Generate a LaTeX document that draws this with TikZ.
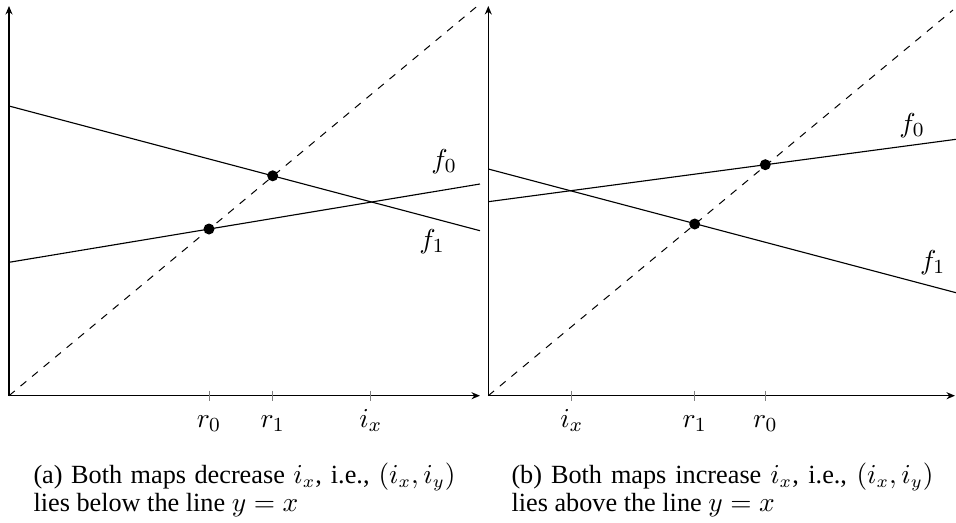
\documentclass[tikz,border=0pt]{standalone}
\usepackage[no-math]{fontspec}
\setmainfont{Liberation Serif}
\usetikzlibrary{arrows.meta}
\begin{document}
\begin{tikzpicture}[x=0.4pt,y=-0.4pt,
  axisline/.style={line width=0.45pt,-{Stealth[length=3.4pt,width=2.8pt]}},
  ticklne/.style={gray,line width=0.35pt},
  diagline/.style={dashed,line width=0.4pt},
  mapline/.style={line width=0.45pt},
  dotmark/.style={fill=black,circle,inner sep=0pt,minimum size=4.4pt},
  ticklabel/.style={anchor=base,inner sep=0pt,font=\fontsize{11}{13}\selectfont},
  maplabel/.style={inner sep=0pt,font=\fontsize{11}{13}\selectfont},
  captext/.style={anchor=base west,inner sep=0pt,font=\fontsize{10.5}{12}\selectfont}]
\useasboundingbox (0,0) rectangle (956,522);

% ---------- left panel ----------
\coordinate (Ao) at (9,395.7);
\coordinate (Ay) at (9,6);
\coordinate (Ax) at (480,395.7);
\coordinate (Ad) at (479.8,4);
\coordinate (Af0s) at (9,106);
\coordinate (Af0e) at (480,230.7);
\coordinate (Af1s) at (9,262.3);
\coordinate (Af1e) at (480,184);

\draw[diagline] (Ao) -- (Ad);
\draw[mapline] (Af0s) -- (Af0e);
\draw[mapline] (Af1s) -- (Af1e);
\draw[axisline] (Ao) -- (Ay);
\draw[axisline] (Ao) -- (Ax);

\coordinate (Atr0a) at (209,390.5); \coordinate (Atr0b) at (209,401);
\coordinate (Atr1a) at (272.7,390.5); \coordinate (Atr1b) at (272.7,401);
\coordinate (Atixa) at (370.7,390.5); \coordinate (Atixb) at (370.7,401);
\draw[ticklne] (Atr0a) -- (Atr0b);
\draw[ticklne] (Atr1a) -- (Atr1b);
\draw[ticklne] (Atixa) -- (Atixb);

\node[ticklabel] (Alr0) at (209,427) {$r_0$};
\node[ticklabel] (Alr1) at (272.7,427) {$r_1$};
\node[ticklabel] (Alix) at (370.7,427) {$i_x$};

\node[dotmark] (Ar0) at (209,229) {};
\node[dotmark] (Ar1) at (272.7,175.8) {};

\node[maplabel] (Alf0) at (444,162) {$f_0$};
\node[maplabel] (Alf1) at (432,242) {$f_1$};

\node[captext] (Acap1) at (33,483) {\makebox[168.8pt][s]{(a) Both maps decrease $i_x$, i.e., $(i_x,i_y)$}};
\node[captext] (Acap2) at (33,511) {lies below the line $y=x$};

% ---------- right panel ----------
\coordinate (Bo) at (488.3,395.7);
\coordinate (By) at (488.3,6);
\coordinate (Bx) at (955,395.7);
\coordinate (Bd) at (953,10);
\coordinate (Bf0s) at (488.3,201.7);
\coordinate (Bf0e) at (956,139.3);
\coordinate (Bf1s) at (488.3,169);
\coordinate (Bf1e) at (956,292.7);

\draw[diagline] (Bo) -- (Bd);
\draw[mapline] (Bf0s) -- (Bf0e);
\draw[mapline] (Bf1s) -- (Bf1e);
\draw[axisline] (Bo) -- (By);
\draw[axisline] (Bo) -- (Bx);

\coordinate (Btixa) at (571.7,390.5); \coordinate (Btixb) at (571.7,401);
\coordinate (Btr1a) at (694.7,390.5); \coordinate (Btr1b) at (694.7,401);
\coordinate (Btr0a) at (765.3,390.5); \coordinate (Btr0b) at (765.3,401);
\draw[ticklne] (Btixa) -- (Btixb);
\draw[ticklne] (Btr1a) -- (Btr1b);
\draw[ticklne] (Btr0a) -- (Btr0b);

\node[ticklabel] (Blix) at (571.7,427) {$i_x$};
\node[ticklabel] (Blr1) at (694.7,427) {$r_1$};
\node[ticklabel] (Blr0) at (765.3,427) {$r_0$};

\node[dotmark] (Br1) at (694.7,224) {};
\node[dotmark] (Br0) at (765.3,164.7) {};

\node[maplabel] (Blf0) at (912,126) {$f_0$};
\node[maplabel] (Blf1) at (932.7,263) {$f_1$};

\node[captext] (Bcap1) at (511,483) {\makebox[168.8pt][s]{(b) Both maps increase $i_x$, i.e., $(i_x,i_y)$}};
\node[captext] (Bcap2) at (511,511) {lies above the line $y=x$};
\end{tikzpicture}
\end{document}
